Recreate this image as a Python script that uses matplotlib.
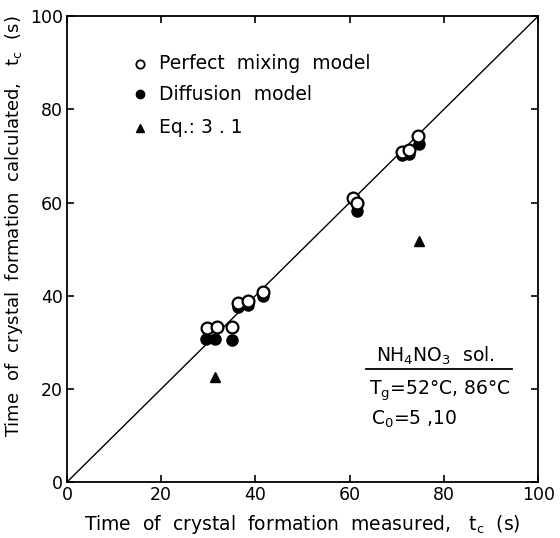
import matplotlib
matplotlib.use("Agg")
import matplotlib.pyplot as plt

plt.rcParams['font.family'] = ['DejaVu Sans']
plt.rcParams['mathtext.default'] = 'regular'

# measured vs calculated times of crystal formation (s)
perfect_x = [29.8, 31.9, 35.0, 36.3, 38.5, 41.5, 60.8, 61.6, 71.0, 72.5, 74.5]
perfect_y = [33.0, 33.2, 33.2, 38.5, 38.8, 40.8, 61.0, 59.8, 70.8, 71.2, 74.2]

diffusion_x = [29.5, 31.5, 35.0, 36.3, 38.5, 41.5, 61.5, 71.0, 72.5, 74.8]
diffusion_y = [30.8, 30.8, 30.4, 37.6, 38.0, 40.0, 58.2, 70.2, 70.5, 72.5]

eq_x = [31.5, 74.8]
eq_y = [22.5, 51.8]

ticks = [0, 20, 40, 60, 80, 100]

fig = plt.figure(figsize=(5.6, 5.38), dpi=100)
ax = fig.add_axes([0.1196, 0.104, 0.8414, 0.866])

ax.plot([0, 100], [0, 100], color='black', lw=1.0, zorder=1)

ax.plot(diffusion_x, diffusion_y, 'o', color='black', ms=8, zorder=2)
ax.plot(perfect_x, perfect_y, 'o', mfc='white', mec='black', mew=1.6, ms=8.5, zorder=3)
ax.plot(eq_x, eq_y, '^', color='black', ms=7, zorder=3)

ax.set_xlim(0, 100)
ax.set_ylim(0, 100)
ax.set_xticks(ticks)
ax.set_yticks(ticks)
ax.tick_params(direction='in', length=5, width=1.2, top=True, right=True,
               labelsize=12.5, pad=3)
for s in ax.spines.values():
    s.set_linewidth(1.3)

ax.set_xlabel('Time  of  crystal  formation  measured,   t$_c$  (s)', fontsize=13.5, labelpad=6)
ax.set_ylabel('Time  of  crystal  formation  calculated,   t$_c$  (s)', fontsize=13)
ax.yaxis.set_label_coords(-0.09, 0.55)

# legend entries drawn as markers and text inside the axes
ax.plot([15.5], [89.8], 'o', mfc='white', mec='black', mew=1.3, ms=6)
ax.text(19.5, 89.8, 'Perfect  mixing  model', fontsize=13.5, va='center')
ax.plot([15.5], [83.2], 'o', color='black', ms=6)
ax.text(19.5, 83.2, 'Diffusion  model', fontsize=13.5, va='center')
ax.plot([15.5], [76.0], '^', color='black', ms=5.5)
ax.text(19.5, 76.0, 'Eq.: 3 . 1', fontsize=13.5, va='center')

# solution / condition annotation
ax.text(65.5, 25.8, 'NH$_4$NO$_3$  sol.', fontsize=13.5, va='baseline')
ax.plot([63.5, 94.5], [24.2, 24.2], color='black', lw=1.3)
ax.text(64.0, 19.5, 'T$_g$=52°C, 86°C', fontsize=13.5, va='center')
ax.text(64.5, 13.5, 'C$_0$=5 ,10', fontsize=13.5, va='center')

fig.savefig('out.png', dpi=100)
